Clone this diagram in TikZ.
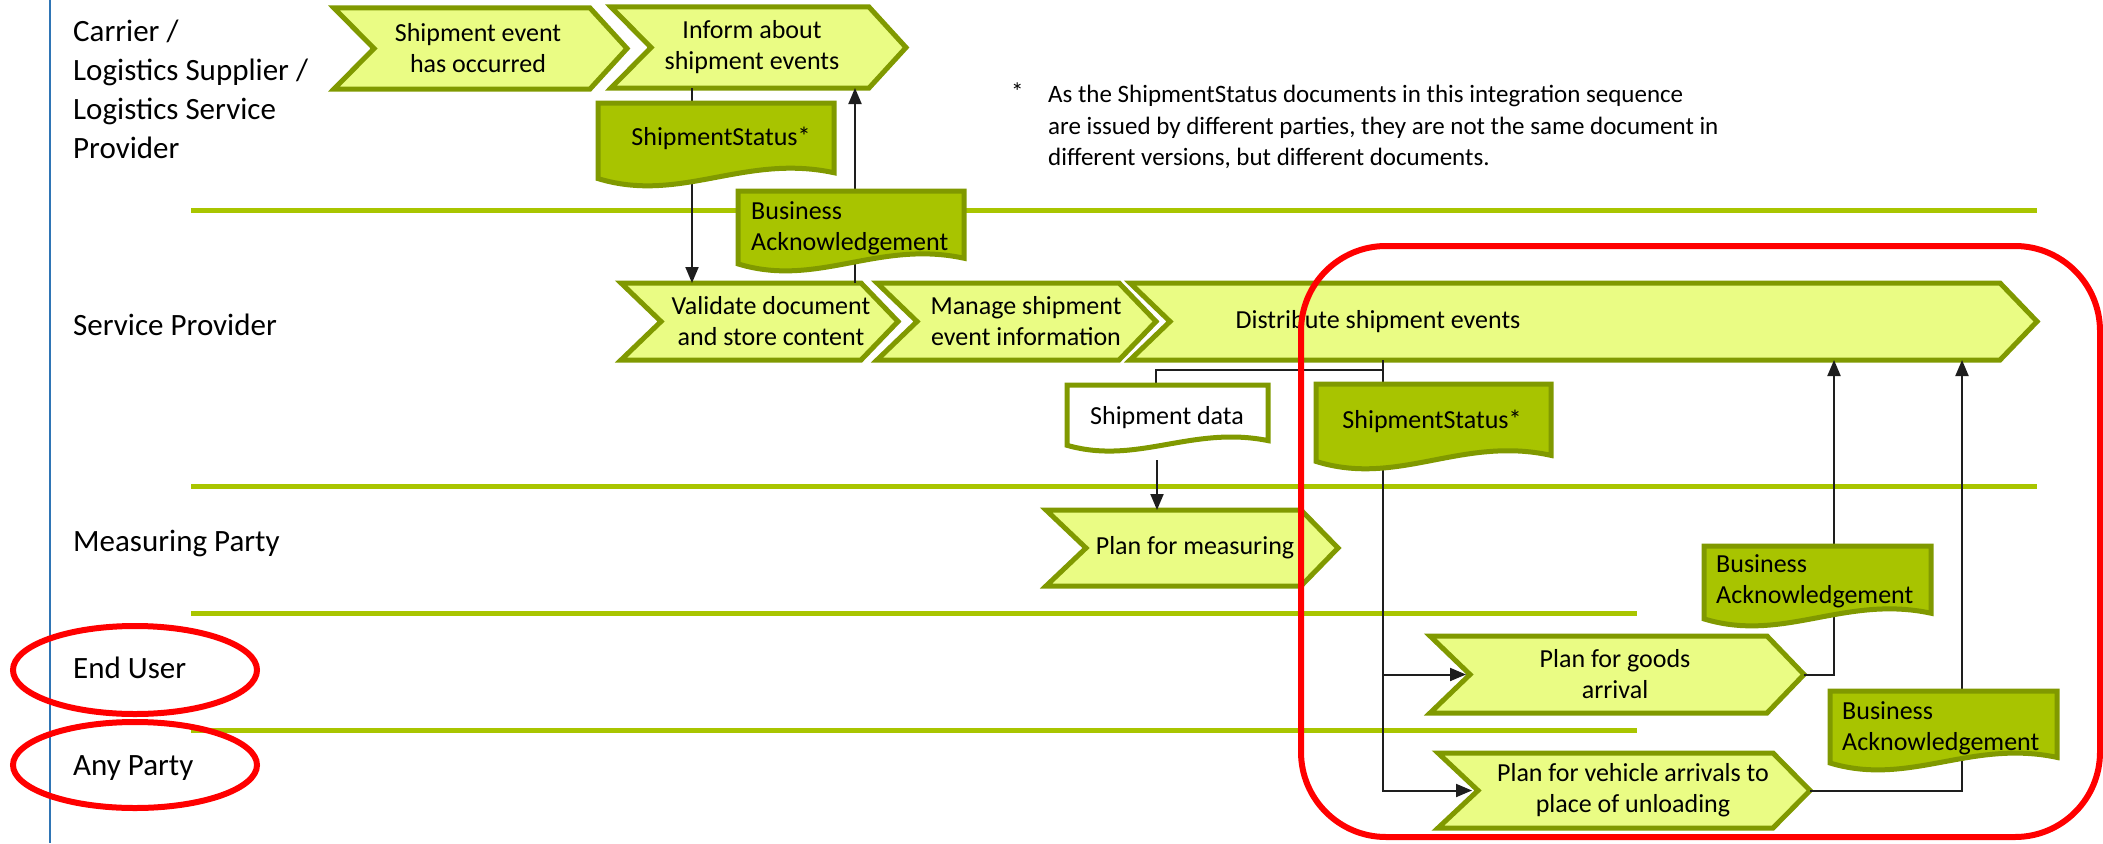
\documentclass[tikz,border=0pt]{standalone}
\usepackage{fontspec}
\setmainfont{Carlito}
\usetikzlibrary{arrows.meta,shapes.geometric}
\definecolor{chevfill}{RGB}{234,252,132}
\definecolor{chevborder}{RGB}{128,153,0}
\definecolor{lanegreen}{RGB}{169,197,0}
\definecolor{docgreen}{RGB}{168,196,0}
\definecolor{bluelane}{RGB}{47,117,181}
\definecolor{conncol}{RGB}{30,30,30}
\tikzset{
 chevst/.style={fill=chevfill, draw=chevborder, line width=5pt, line join=miter},
 docst/.style={draw=chevborder, line width=5pt, line join=miter},
 boxst/.style={inner sep=0, outer sep=0, draw=none, rectangle},
 chevtext/.style={font=\fontsize{26}{31}\selectfont, align=center, inner sep=0},
 doctext/.style={font=\fontsize{26}{31}\selectfont, align=left, inner sep=0},
 lanelabel/.style={font=\fontsize{31}{39}\selectfont, align=left, inner sep=0, anchor=west},
 laneline/.style={draw=lanegreen, line width=5pt},
 conn/.style={draw=conncol, line width=2pt},
 arr/.style={conn, -{Triangle[length=16pt,width=13pt]}},
 redmark/.style={draw=red, line width=6pt},
}
\newcommand\mychev[7]{%
 \path[chevst] (#2,#3) -- ({#4-37},#3) -- (#4,{(#3+#5)/2}) -- ({#4-37},#5) -- (#2,#5) -- ({#2+40},{(#3+#5)/2}) -- cycle;
 \node[boxst, minimum width={#4-#2}, minimum height={#5-#3}] (#1) at ({(#2+#4)/2},{(#3+#5)/2}) {};
 \node[chevtext] (#1t) at (#6,{(#3+#5)/2}) {#7};
}
\newcommand\mydoc[6]{%
 \path[docst, fill=#6] (#2,#3) -- (#4,#3) -- (#4,{#3+0.83*(#5-#3)}) .. controls ({#2+0.62*(#4-#2)},{#3+0.6*(#5-#3)}) and ({#2+0.35*(#4-#2)},{#3+1.2*(#5-#3)}) .. (#2,{#3+0.9*(#5-#3)}) -- cycle;
 \node[boxst, minimum width={#4-#2}, minimum height={#5-#3}] (#1) at ({(#2+#4)/2},{(#3+#5)/2}) {};
}
\begin{document}
\begin{tikzpicture}[x=1pt,y=-1pt]
\useasboundingbox (0,0) rectangle (2103,843);
% swimlane frame
\draw[draw=bluelane, line width=2.5pt] (50,0) -- (50,843);
\draw[laneline] (191,210) -- (2037,210);
\draw[laneline] (191,486) -- (2037,486);
\draw[laneline] (191,613) -- (1637,613);
\draw[laneline] (191,730) -- (1637,730);
% lane labels
\node[lanelabel] (l1) at (73,89) {Carrier /\\Logistics Supplier /\\Logistics Service\\Provider};
\node[lanelabel] (l2) at (73,325) {Service Provider};
\node[lanelabel] (l3) at (73,543) {Measuring Party};
\node[lanelabel] (l4) at (73,668) {End User};
\node[lanelabel] (l5) at (73,768) {Any Party};
% footnote
\node[font=\fontsize{25}{31.5}\selectfont, inner sep=0, anchor=west] (star) at (1011,92) {*};
\node[font=\fontsize{25}{31.5}\selectfont, align=left, inner sep=0, anchor=west] (note) at (1048,127) {As the ShipmentStatus documents in this integration sequence\\are issued by different parties, they are not the same document in\\different versions, but different documents.};
% chevrons
\mychev{c1}{334}{8}{627}{89}{478}{Shipment event\\has occurred}
\mychev{c2}{611}{7}{906}{88}{752}{Inform about\\shipment events}
\mychev{v}{621}{283}{898}{360}{771}{Validate document\\and store content}
\mychev{m}{877}{283}{1156}{360}{1026}{Manage shipment\\event information}
\mychev{d}{1130}{283}{2037}{360}{1378}{Distribute shipment events}
\mychev{pm}{1046}{510}{1338}{586}{1195}{Plan for measuring}
\mychev{pg}{1430}{636}{1804}{713}{1615}{Plan for goods\\arrival}
\mychev{pv}{1438}{753}{1810}{828}{1633}{Plan for vehicle arrivals to\\place of unloading}
% document anchors (invisible), shapes drawn after the connectors
\node[boxst, minimum width=201, minimum height=67] (sdb) at (1167.5,418.5) {};
% connectors (behind documents)
\draw[arr] (c2.south -| 692,0) -- (v.north -| 692,0);
\draw[arr] (v.north -| 855,0) -- (c2.south -| 855,0);
\draw[conn] (d.south -| 1383,0) -- (1383,370) -| (sdb.north -| 1156,0);
\draw[arr] (d.south -| 1383,0) |- ([xshift=36pt]pg.west);
\draw[arr] (d.south -| 1383,0) |- ([xshift=34pt]pv.west);
\draw[arr] ([yshift=-8pt]sdb.south -| 1157,0) -- (pm.north -| 1157,0);
\draw[arr] (pg.east) -| (d.south -| 1834,0);
\draw[arr] (pv.east) -| (d.south -| 1962,0);
% documents
\mydoc{ss1}{598}{103}{834}{187}{docgreen}
\node[doctext] (ss1t) at (721,138) {ShipmentStatus*};
\mydoc{ba1}{738}{191}{964}{272}{docgreen}
\node[doctext, anchor=west] (ba1t) at (751,228) {Business\\Acknowledgement};
\mydoc{sd}{1067}{385}{1268}{452}{white}
\node[doctext] (sdt) at (1167,418) {Shipment data};
\mydoc{ss2}{1316}{384}{1551}{470}{docgreen}
\node[doctext] (ss2t) at (1432,421) {ShipmentStatus*};
\mydoc{ba2}{1704}{546}{1931}{627}{docgreen}
\node[doctext, anchor=west] (ba2t) at (1716,581) {Business\\Acknowledgement};
\mydoc{ba3}{1830}{691}{2057}{771}{docgreen}
\node[doctext, anchor=west] (ba3t) at (1842,728) {Business\\Acknowledgement};
% red highlight marks
\node[redmark, ellipse, inner sep=0, minimum width=244, minimum height=88] (e1) at (135,670) {};
\node[redmark, ellipse, inner sep=0, minimum width=244, minimum height=86] (e2) at (135,765) {};
\node[redmark, rectangle, rounded corners=85pt, inner sep=0, minimum width=799, minimum height=591] (focus) at (1700.5,541.5) {};
\end{tikzpicture}
\end{document}
